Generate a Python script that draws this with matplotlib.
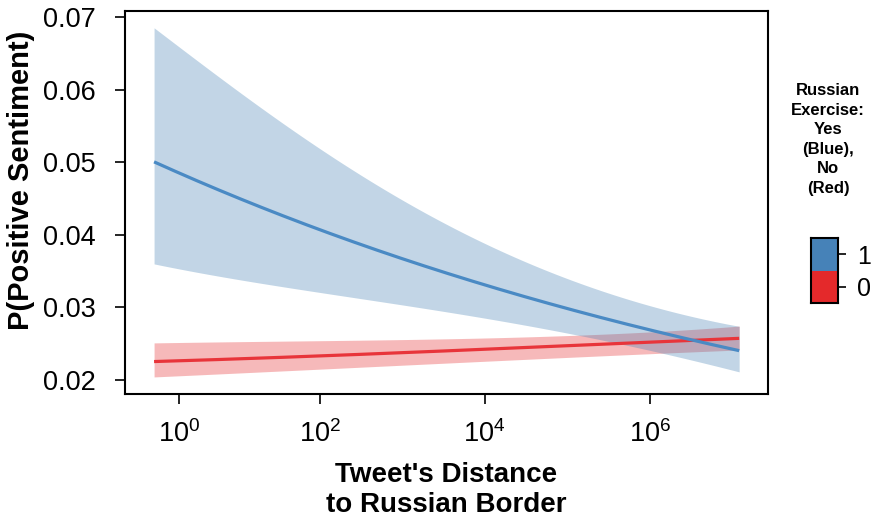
#!/usr/bin/env python3
# _*_ coding=utf-8 _*_

import numpy as np
import matplotlib
matplotlib.use("Agg")
import matplotlib.pyplot as plt

plt.rcParams["font.family"] = ["Liberation Sans", "DejaVu Sans"]
plt.rcParams["mathtext.fontset"] = "custom"
plt.rcParams["mathtext.rm"] = "Liberation Sans"
plt.rcParams["mathtext.it"] = "Liberation Sans:italic"
plt.rcParams["mathtext.bf"] = "Liberation Sans:bold"

# distance to border (x)
distance = [0, 10, 100, 1e3, 1e4, 1e5, 1e6, 1.2e7]

# exercise = 1 (blue)
blue_fit = [0.0500, 0.0451, 0.0406, 0.0367, 0.0331, 0.0298, 0.0269, 0.0240]
blue_hi = [0.0686, 0.0598, 0.0513, 0.0449, 0.0393, 0.0339, 0.0299, 0.0275]
blue_lo = [0.0360, 0.0339, 0.0317, 0.0304, 0.0287, 0.0266, 0.0237, 0.0212]

# exercise = 0 (red)
red_fit = [0.0225, 0.0229, 0.0233, 0.0237, 0.0242, 0.0247, 0.0252, 0.0257]
red_hi = [0.0251, 0.0252, 0.0254, 0.0256, 0.0257, 0.0261, 0.0266, 0.0274]
red_lo = [0.0203, 0.0211, 0.0215, 0.0219, 0.0224, 0.0231, 0.0238, 0.0240]

x_ticks = [1, 1e2, 1e4, 1e6]
x_ticklabels = [r"$10^{0}$", r"$10^{2}$", r"$10^{4}$", r"$10^{6}$"]
y_ticks = [0.02, 0.03, 0.04, 0.05, 0.06, 0.07]

legend_levels = ["0", "1"]
legend_colors = ["#e4292b", "#4682b8"]

BLUE = "#4a8ac4"
RED = "#e8343a"


def fwd(x):
    return np.log10(np.maximum(1 + np.asarray(x, dtype=float), 1e-12))


def inv(u):
    return 10 ** np.asarray(u, dtype=float) - 1


def logit(p):
    p = np.asarray(p, dtype=float)
    return np.log(p / (1 - p))


def expit(z):
    return 1 / (1 + np.exp(-z))


def main():
    fig = plt.figure(figsize=(8.74, 5.25), dpi=100)
    ax = fig.add_axes([0.143, 0.2495, 0.7357, 0.7295])

    x = np.array(distance)
    u = fwd(x)
    us = np.linspace(u[0], u[-1], 300)
    xs = inv(us)

    # smooth the read-off points (cubic in logit space)
    def smooth(vals):
        c = np.polyfit(u, logit(vals), 3)
        return expit(np.polyval(c, us))

    ax.fill_between(xs, smooth(red_lo), smooth(red_hi),
                    color="#e41a1c", alpha=0.3, linewidth=0)
    ax.plot(xs, smooth(red_fit), color=RED, linewidth=2.3,
            solid_capstyle="butt")
    ax.fill_between(xs, smooth(blue_lo), smooth(blue_hi),
                    color="#4682b4", alpha=0.33, linewidth=0)
    ax.plot(xs, smooth(blue_fit), color=BLUE, linewidth=2.3,
            solid_capstyle="butt")

    ax.set_xscale("function", functions=(fwd, inv))
    ax.set_xlim(inv(-0.352), inv(7.428))
    ax.set_ylim(0.01803, 0.07086)
    ax.set_xticks(x_ticks)
    ax.set_xticklabels(x_ticklabels)
    ax.xaxis.set_minor_locator(matplotlib.ticker.NullLocator())
    ax.set_yticks(y_ticks)
    ax.set_yticklabels(["%.2f" % v for v in y_ticks])

    ax.tick_params(axis="both", direction="out", labelsize=19.5,
                   width=1.2, color="black")
    ax.tick_params(axis="x", length=7, pad=12)
    ax.tick_params(axis="y", length=7, pad=14)
    for s in ax.spines.values():
        s.set_linewidth(1.5)

    ax.set_ylabel("P(Positive Sentiment)", fontsize=21, fontweight="bold")
    ax.yaxis.set_label_coords(-0.140, 0.559)
    ax.set_xlabel("Tweet's Distance\nto Russian Border", fontsize=20,
                  fontweight="bold", labelpad=10, linespacing=1.2)

    # legend: title + colour key
    fig.text(828 / 874, 1 - 83 / 525,
             "Russian\nExercise:\nYes\n(Blue),\nNo\n(Red)",
             ha="center", va="top", fontsize=12, fontweight="bold",
             multialignment="center", linespacing=1.38)

    lax = fig.add_axes([811 / 874, 1 - 303 / 525, 27 / 874, 65 / 525])
    for i, (lvl, col) in enumerate(zip(legend_levels, legend_colors)):
        lax.bar(0, 1, bottom=i, width=1, color=col, linewidth=0)
    lax.set_xlim(-0.5, 0.5)
    lax.set_ylim(0, len(legend_levels))
    lax.set_xticks([])
    lax.set_yticks([i + 0.5 for i in range(len(legend_levels))])
    lax.set_yticklabels(legend_levels)
    lax.yaxis.tick_right()
    lax.tick_params(axis="y", direction="out", length=6, width=1.2,
                    labelsize=18, pad=8)
    for s in lax.spines.values():
        s.set_linewidth(1.5)

    fig.savefig("out.png", dpi=100)


if __name__ == "__main__":
    main()
